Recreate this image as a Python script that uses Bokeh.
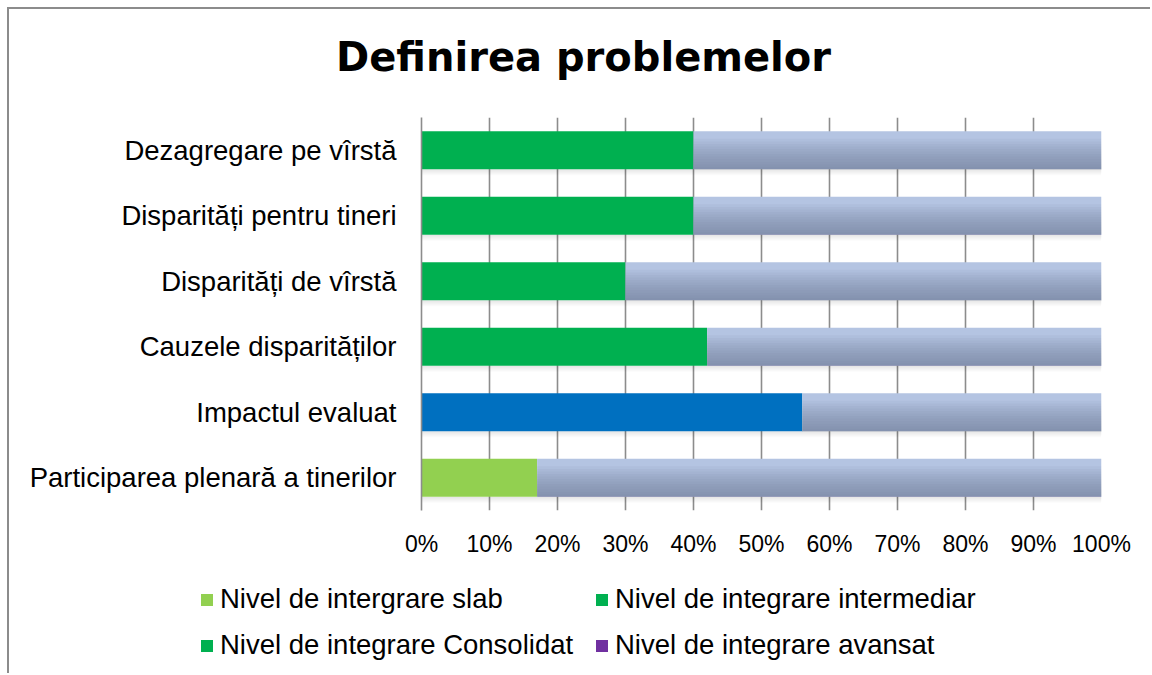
import numpy as np
from bokeh.plotting import figure
from bokeh.layouts import column
from bokeh.models import (ColumnDataSource, FactorRange, Range1d, FixedTicker,
                          Legend, LegendItem, Label)
from bokeh.transform import dodge
from bokeh.embed import file_html
from bokeh.resources import INLINE

# ---------------- data ----------------
categories = [
    "Participarea plenară a tinerilor",
    "Impactul evaluat",
    "Cauzele disparităților",
    "Disparități de vîrstă",
    "Disparități pentru tineri",
    "Dezagregare pe vîrstă",
]
slab = [17, 0, 0, 0, 0, 0]
intermediar = [0, 0, 42, 30, 40, 40]
consolidat = [0, 56, 0, 0, 0, 0]
avansat = [0, 0, 0, 0, 0, 0]
series_labels = [
    "Nivel de intergrare slab",
    "Nivel de integrare intermediar",
    "Nivel de integrare Consolidat",
    "Nivel de integrare avansat",
]
tick_values = [0, 10, 20, 30, 40, 50, 60, 70, 80, 90, 100]
tick_labels = ["0%", "10%", "20%", "30%", "40%", "50%", "60%", "70%", "80%", "90%", "100%"]
title_text = "Definirea problemelor"

# ---------------- styles ----------------
bar_colors = ["#92D050", "#00B050", "#0070C0", "#7030A0"]
legend_colors = ["#92D050", "#00B050", "#00B050", "#7030A0"]
grid_color = "#8C8C8C"
body_font = "Liberation Sans"

vals = np.array([slab, intermediar, consolidat, avansat], dtype=float)
cum = np.vstack([np.zeros(len(categories)), np.cumsum(vals, axis=0)])
rest_left = cum[-1]
rest_right = np.full(len(categories), 100.0)

data = dict(cat=categories, rest_left=list(rest_left), rest_right=list(rest_right),
            zero=[0.0] * len(categories))
for i in range(4):
    data[f"l{i}"] = list(cum[i])
    data[f"r{i}"] = list(cum[i + 1])
src = ColumnDataSource(data)

W, H0, H1, H2 = 1141, 100, 461, 103


def blank_strip(height):
    f = figure(width=W, height=height, x_range=Range1d(0, 1), y_range=Range1d(0, 1),
               x_axis_type=None, y_axis_type=None,
               output_backend="svg", toolbar_location=None,
               min_border_left=0, min_border_right=0, min_border_top=0, min_border_bottom=0)
    f.frame_align = False
    f.outline_line_color = None
    f.grid.grid_line_color = None
    f.background_fill_color = "white"
    f.border_fill_color = "white"
    return f


# ---------------- title strip ----------------
t = blank_strip(H0)
t.add_layout(Label(x=574, y=53, x_units="screen", y_units="screen", text=title_text,
                   text_align="center", text_baseline="alphabetic",
                   text_font="DejaVu Sans", text_font_style="bold",
                   text_font_size="40px", text_color="black"))

# ---------------- main chart ----------------
p = figure(width=W, height=H1,
           y_range=FactorRange(factors=categories, range_padding=0),
           x_range=Range1d(0, 100),
           output_backend="svg", toolbar_location=None,
           min_border_left=412, min_border_right=49,
           min_border_top=8, min_border_bottom=60)
p.frame_align = False
p.outline_line_color = None
p.background_fill_color = "white"
p.border_fill_color = "white"

# grid
p.xgrid.ticker = FixedTicker(ticks=tick_values)
p.xgrid.grid_line_color = grid_color
p.xgrid.grid_line_width = 1.6
p.ygrid.grid_line_color = None

# axes
p.xaxis.ticker = FixedTicker(ticks=tick_values)
p.xaxis.major_label_overrides = {v: l for v, l in zip(tick_values, tick_labels)}
p.xaxis.axis_line_color = None
p.xaxis.major_tick_line_color = None
p.xaxis.minor_tick_line_color = None
p.xaxis.major_tick_out = 0
p.xaxis.major_label_standoff = 20
p.xaxis.major_label_text_font = body_font
p.xaxis.major_label_text_font_size = "23px"
p.xaxis.major_label_text_color = "black"

p.yaxis.axis_line_color = grid_color
p.yaxis.axis_line_width = 1.6
p.yaxis.major_tick_line_color = None
p.yaxis.minor_tick_line_color = None
p.yaxis.major_tick_out = 0
p.yaxis.major_label_standoff = 25
p.yaxis.major_label_text_font = body_font
p.yaxis.major_label_text_font_size = "27.5px"
p.yaxis.major_label_text_color = "black"

bh = 0.58
px = 1.0 / 65.5

# soft shadow under bars
for k in range(6):
    off = -bh / 2 - (k + 0.5) * px
    p.hbar(y=dodge("cat", off, range=p.y_range), left="zero", right="rest_right",
           height=px * 1.05, fill_color="black", fill_alpha=0.10 * (1 - k / 6.0),
           line_color=None, source=src)

# series bars
for i in range(4):
    p.hbar(y="cat", left=f"l{i}", right=f"r{i}", height=bh, fill_color=bar_colors[i],
           line_color=None, source=src)

# remaining part: light base + darkening overlays toward the bottom
p.hbar(y="cat", left="rest_left", right="rest_right", height=bh,
       fill_color="#B4C4E2", line_color=None, source=src)
n = 12
for j in range(1, n + 1):
    hj = bh * 0.8 * j / n
    off = -bh / 2 + hj / 2
    p.hbar(y=dodge("cat", off, range=p.y_range), left="rest_left", right="rest_right",
           height=hj, fill_color="#6A7590", fill_alpha=0.073, line_color=None, source=src)

# ---------------- legend strip ----------------
q = blank_strip(H2)

# swatch renderers: one point each, far outside the visible ranges (legend swatches only)
legend_renderers = []
for i in range(4):
    r = q.hbar(y=[-50.0], left=[-50.0], right=[-49.0], height=0.5,
               fill_color=legend_colors[i], line_color=None)
    legend_renderers.append(r)

order = [0, 2, 1, 3]  # column-wise fill -> rows: (slab, intermediar), (Consolidat, avansat)
legend = Legend(
    items=[LegendItem(label=series_labels[i], renderers=[legend_renderers[i]]) for i in order],
    ncols=2,
    location=(190, 8),
    padding=0, margin=0, spacing=6,
    glyph_width=15, glyph_height=15, label_standoff=6,
    label_width=368, label_height=40,
    label_text_font=body_font, label_text_font_size="27.5px", label_text_color="black",
    border_line_color=None, background_fill_alpha=0,
)
q.add_layout(legend, "center")

layout = column(t, p, q, spacing=0,
                styles={"margin-left": "7px", "margin-top": "7px",
                        "border-left": "2px solid #8C8C8C", "border-top": "2px solid #8C8C8C"})

open("out.html", "w").write(file_html(layout, INLINE))
